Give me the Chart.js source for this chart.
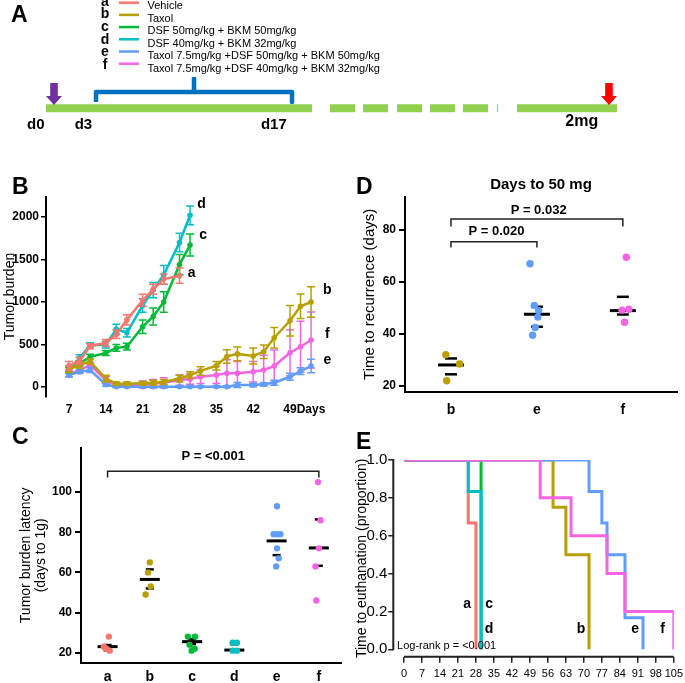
<!DOCTYPE html>
<html>
<head>
<meta charset="utf-8">
<script src="https://cdn.jsdelivr.net/npm/chart.js@4.4.1/dist/chart.umd.min.js"></script>
<style>
  body { margin: 0; width: 685px; height: 683px; background: #fff; position: relative; overflow: hidden;
         font-family: "Liberation Sans", Arial, sans-serif; }
  canvas { position: absolute; }
  .panel { position: absolute; font-weight: bold; font-size: 23px; line-height: 1; }
</style>
</head>
<body>
<canvas id="chartA" width="685" height="135" style="left:0;top:0"></canvas>
<canvas id="chartB" width="340" height="235" style="left:0;top:185px"></canvas>
<canvas id="chartC" width="345" height="253" style="left:0;top:430px"></canvas>
<canvas id="chartD" width="340" height="255" style="left:345px;top:165px"></canvas>
<canvas id="chartE" width="343" height="243" style="left:345px;top:440px"></canvas>
<div class="panel" style="left:11px;top:3px">A</div>
<div class="panel" style="left:12px;top:175px">B</div>
<div class="panel" style="left:12px;top:425px">C</div>
<div class="panel" style="left:356px;top:175px">D</div>
<div class="panel" style="left:356px;top:430px">E</div>
<script>
"use strict";

// treatment groups
const groupLetters = ['a', 'b', 'c', 'd', 'e', 'f'];
const groupNames = ['Vehicle', 'Taxol', 'DSF 50mg/kg + BKM 50mg/kg', 'DSF 40mg/kg + BKM 32mg/kg',
    'Taxol 7.5mg/kg +DSF 50mg/kg + BKM 50mg/kg', 'Taxol 7.5mg/kg +DSF 40mg/kg + BKM 32mg/kg'];
const groupColors = ['#F8766D', '#B79F00', '#00BA38', '#00BFC4', '#619CFF', '#F564E3'];

// A: schedule (schematic days)
const timelineSegments = [[-0.57, 18.43], [19.71, 21.5], [22.07, 23.86], [24.5, 26.29], [26.86, 28.64],
    [29.21, 31], [31.64, 31.71], [33.07, 40.21]];
const treatmentStart = 3;
const treatmentEnd = 17;
const timelineLabels = ['d0', 'd3', 'd17', '2mg'];
const timelineLabelDays = [-1.3, 2.1, 15.7, 37.7];

// B: tumor burden
const burdenDays = [7, 9, 11, 14, 16, 18, 21, 23, 25, 28, 30, 32, 35, 37, 39, 42, 44, 46, 49, 51, 53];
const burdenTicks = [7, 14, 21, 28, 35, 42, 49];
const burdenYTicks = [0, 500, 1000, 1500, 2000];
const burdenA = [250, 310, 480, 520, 620, 790, 1020, 1150, 1270, 1310];
const burdenAErr = [50, 40, 30, 40, 50, 60, 70, 60, 60, 90];
const burdenB = [210, 260, 300, 100, 40, 40, 45, 50, 60, 100, 140, 190, 250, 360, 390, 365, 415, 580, 780, 950, 1000];
const burdenBErr = [40, 40, 30, 40, 20, 20, 20, 30, 30, 40, 40, 50, 50, 80, 80, 95, 80, 120, 180, 145, 180];
const burdenC = [200, 280, 355, 400, 460, 475, 710, 830, 1000, 1440, 1670];
const burdenCErr = [30, 30, 30, 30, 40, 40, 80, 100, 120, 120, 130];
const burdenD = [200, 340, 490, 500, 680, 640, 960, 1140, 1320, 1700, 2020];
const burdenDErr = [30, 40, 30, 40, 60, 50, 80, 90, 110, 110, 110];
const burdenE = [140, 180, 200, 30, 4, 4, 4, 4, 4, 4, 4, 4, 4, 4, 24, 24, 32, 51, 121, 188, 247];
const burdenEErr = [20, 20, 30, 20, 10, 10, 10, 10, 10, 10, 10, 10, 10, 10, 30, 20, 20, 30, 40, 40, 80];
const burdenF = [150, 200, 260, 80, 20, 20, 30, 40, 50, 82, 94, 121, 141, 161, 161, 180, 200, 247, 403, 474, 553];
const burdenFErr = [30, 30, 30, 40, 20, 20, 40, 50, 60, 60, 60, 80, 100, 160, 140, 120, 175, 190, 270, 300, 330];

// C: latency to 1 g
const latencyTicks = [20, 40, 60, 80, 100];
const latencyA = [28, 23, 22, 21];
const latencyB = [65, 60, 53, 49];
const latencyC = [28, 28, 24, 22, 21];
const latencyD = [25, 25, 21, 21];
const latencyE = [93, 79, 79, 79, 72, 67, 63];
const latencyF = [105, 86, 72, 63, 46];
const latencyJitter = [[0.03, -0.09, -0.03, 0.05], [0, -0.04, 0.02, -0.1], [-0.1, 0.07, -0.06, 0.06, -0.01],
    [-0.04, 0.06, -0.04, 0.06], [0.01, -0.07, 0.01, 0.09, 0.01, 0.05, -0.01], [-0.02, 0.04, 0, -0.08, -0.06]];
const latencyMean = [23, 56.5, 25.5, 21.3, 75.7, 72.2];
const latencyHigh = [23.8, 61.5, 26.8, 24.2, 79.4, 86.4];
const latencyLow = [21.2, 52, 24.3, 20.8, 68.6, 63.3];

// D: days to 50 mg
const recurGroups = ['b', 'e', 'f'];
const recurColors = ['#B79F00', '#619CFF', '#F564E3'];
const recurTicks = [20, 40, 60, 80];
const recurB = [32, 28.5, 22];
const recurE = [67, 51, 49, 46.5, 42.5, 39.5];
const recurF = [69.5, 49.2, 49.5, 44.5];
const recurJitter = [[-0.06, 0.1, -0.05], [-0.08, -0.03, 0.02, 0.01, -0.02, -0.05], [0.04, -0.01, 0.07, 0.02]];
const recurMean = [28.1, 47.6, 49];
const recurHigh = [30.6, 50.5, 54.3];
const recurLow = [24.5, 42.8, 47.5];

// E: survival (day, proportion)
const survTicksX = [0, 7, 14, 21, 28, 35, 42, 49, 56, 63, 70, 77, 84, 91, 98, 105];
const survTicksY = [0, 0.2, 0.4, 0.6, 0.8, 1.0];
const survA = [[0, 1], [25, 0.667], [28, 0]];
const survB = [[0, 1], [58, 0.75], [63, 0.5], [72, 0]];
const survC = [[0, 1], [30, 0]];
const survD = [[0, 1], [25, 0.833], [30, 0]];
const survE = [[0, 1], [72, 0.833], [77, 0.667], [79, 0.5], [86, 0.167], [93, 0]];
const survF = [[0, 1], [53, 0.8], [65, 0.6], [79, 0.4], [86, 0.2], [105, 0]];

const FONT = "'Liberation Sans', Arial, sans-serif";
Chart.defaults.font.family = FONT;
Chart.defaults.color = '#000';

const base = {
    responsive: false,
    animation: false,
    devicePixelRatio: 1,
    plugins: { legend: { display: false }, tooltip: { enabled: false } }
};

const fixTicks = list => s => { s.ticks = list.map(v => ({ value: v })); };

// draws summary lines, brackets and texts in data units
function annotations(cfg) {
    return {
        id: 'annot',
        beforeDatasetsDraw(chart) {
            const { ctx, scales: { x, y } } = chart;
            ctx.save();
            ctx.strokeStyle = '#000';
            (cfg.summaries || []).forEach(s => {
                const cx = x.getPixelForValue(s.pos);
                [[s.mean, s.wide, 3], [s.hi, s.narrow, 2.5], [s.lo, s.narrow, 2.5]].forEach(([v, w, lw]) => {
                    const cy = y.getPixelForValue(v);
                    ctx.lineWidth = lw;
                    ctx.beginPath();
                    ctx.moveTo(cx - w / 2, cy);
                    ctx.lineTo(cx + w / 2, cy);
                    ctx.stroke();
                });
            });
            ctx.restore();
        },
        afterDatasetsDraw(chart) {
            const { ctx, scales: { x, y } } = chart;
            ctx.save();
            (cfg.brackets || []).forEach(b => {
                const x1 = x.getPixelForValue(b.from), x2 = x.getPixelForValue(b.to);
                const yt = y.getPixelForValue(b.y), yb = y.getPixelForValue(b.drop);
                ctx.strokeStyle = '#222';
                ctx.lineWidth = 1.5;
                ctx.beginPath();
                ctx.moveTo(x1, yb);
                ctx.lineTo(x1, yt);
                ctx.lineTo(x2, yt);
                ctx.lineTo(x2, yb);
                ctx.stroke();
            });
            (cfg.texts || []).forEach(t => {
                ctx.font = t.font;
                ctx.fillStyle = '#000';
                ctx.textAlign = t.align || 'center';
                ctx.textBaseline = 'middle';
                ctx.fillText(t.text, x.getPixelForValue(t.x), y.getPixelForValue(t.y));
            });
            if (cfg.after) cfg.after(chart, ctx);
            ctx.restore();
        }
    };
}

const errorBars = {
    id: 'errorBars',
    beforeDatasetDraw(chart, args) {
        const ds = chart.data.datasets[args.index];
        if (!ds.errors) return;
        const { ctx, scales: { y } } = chart;
        ctx.save();
        ctx.strokeStyle = ds.borderColor;
        ctx.lineWidth = 1.5;
        args.meta.data.forEach((pt, i) => {
            const v = ds.data[i].y, e = ds.errors[i];
            const top = y.getPixelForValue(v + e), bot = y.getPixelForValue(Math.max(v - e, -40));
            ctx.beginPath();
            ctx.moveTo(pt.x, top); ctx.lineTo(pt.x, bot);
            ctx.moveTo(pt.x - 4, top); ctx.lineTo(pt.x + 4, top);
            ctx.moveTo(pt.x - 4, bot); ctx.lineTo(pt.x + 4, bot);
            ctx.stroke();
        });
        ctx.restore();
    }
};

// ---------- A ----------
const timelinePoints = [];
timelineSegments.forEach(([s, e]) => {
    timelinePoints.push({ x: s, y: 108.3 }, { x: e, y: 108.3 }, { x: e, y: null });
});
const mid = (treatmentStart + treatmentEnd) / 2;
const bracketPoints = [
    { x: treatmentStart, y: 102 }, { x: treatmentStart, y: 92 }, { x: treatmentEnd, y: 92 }, { x: treatmentEnd, y: 102 },
    { x: treatmentEnd, y: null }, { x: mid, y: 92 }, { x: mid, y: 77 }
];
const scheduleDecor = {
    id: 'scheduleDecor',
    afterDatasetsDraw(chart) {
        const { ctx, scales: { x } } = chart;
        ctx.save();
        // legend
        groupLetters.forEach((l, i) => {
            ctx.fillStyle = '#000';
            ctx.font = 'bold 14px ' + FONT;
            ctx.textAlign = 'center';
            ctx.textBaseline = 'middle';
            ctx.fillText(l, 105, 2 + i * 12.6);
            ctx.strokeStyle = groupColors[i];
            ctx.lineWidth = 2.5;
            ctx.beginPath();
            ctx.moveTo(119, 2.7 + i * 12.2);
            ctx.lineTo(139, 2.7 + i * 12.2);
            ctx.stroke();
            ctx.font = '11px ' + FONT;
            ctx.textAlign = 'left';
            ctx.fillText(groupNames[i], 147.5, 6 + i * 12.5);
        });
        // arrows at start and end
        [[0, '#7030A0'], [39.64, '#FF0000']].forEach(([d, c]) => {
            const cx = x.getPixelForValue(d);
            ctx.fillStyle = c;
            ctx.fillRect(cx - 3.8, 83, 7.6, 14);
            ctx.beginPath();
            ctx.moveTo(cx - 8, 96);
            ctx.lineTo(cx + 8, 96);
            ctx.lineTo(cx, 105);
            ctx.closePath();
            ctx.fill();
        });
        timelineLabels.forEach((t, i) => {
            ctx.fillStyle = '#000';
            ctx.font = (t === '2mg' ? 'bold 16px ' : 'bold 15px ') + FONT;
            ctx.textAlign = 'center';
            ctx.textBaseline = 'middle';
            ctx.fillText(t, x.getPixelForValue(timelineLabelDays[i]), t === '2mg' ? 122 : 125);
        });
        ctx.restore();
    }
};
new Chart(document.getElementById('chartA'), {
    type: 'line',
    data: {
        datasets: [
            { data: timelinePoints, borderColor: '#92D050', borderWidth: 8, borderCapStyle: 'butt', pointRadius: 0, spanGaps: false },
            { data: bracketPoints, borderColor: '#0070C0', borderWidth: 4.5, borderJoinStyle: 'round', pointRadius: 0, spanGaps: false }
        ]
    },
    options: {
        ...base,
        layout: { padding: 0 },
        scales: {
            x: { type: 'linear', display: false, min: -3.857, max: 45.07 },
            y: { type: 'linear', display: false, min: 0, max: 135, reverse: true }
        }
    },
    plugins: [scheduleDecor]
});

// ---------- B ----------
const burdenSeries = [
    [burdenA, burdenAErr], [burdenB, burdenBErr], [burdenC, burdenCErr],
    [burdenD, burdenDErr], [burdenE, burdenEErr], [burdenF, burdenFErr]
];
new Chart(document.getElementById('chartB'), {
    type: 'line',
    data: {
        datasets: burdenSeries.map(([vals, errs], i) => ({
            data: vals.map((v, k) => ({ x: burdenDays[k], y: v })),
            errors: errs,
            borderColor: groupColors[i],
            backgroundColor: groupColors[i],
            borderWidth: 2.5,
            pointRadius: 2.8,
            pointBorderWidth: 0,
            tension: 0
        }))
    },
    options: {
        ...base,
        layout: { padding: { top: 11.6, right: 20, left: 0, bottom: 0 } },
        scales: {
            x: {
                type: 'linear', min: 2.63, max: 54.7,
                afterBuildTicks: fixTicks(burdenTicks),
                afterFit: s => { s.height = 23.6; },
                grid: { display: false, drawTicks: false },
                border: { display: false },
                ticks: { font: { weight: 'bold', size: 12 }, padding: 6, maxRotation: 0, callback: v => String(v) }
            },
            y: {
                type: 'linear', min: -110, max: 2240,
                afterBuildTicks: fixTicks(burdenYTicks),
                afterFit: s => { s.width = 46; },
                grid: { drawOnChartArea: false, drawTicks: true, tickLength: 5, color: '#000', lineWidth: 1.5 },
                border: { display: true, color: '#000', width: 2 },
                ticks: { font: { weight: 'bold', size: 12 }, padding: 2, callback: v => String(v) },
                title: { display: true, text: 'Tumor burden', font: { size: 14 }, padding: { top: 2, bottom: 0 } }
            }
        }
    },
    plugins: [errorBars, annotations({
        texts: [
            { text: 'a', x: 30.3, y: 1338 }, { text: 'b', x: 56.1, y: 1141 }, { text: 'c', x: 32.5, y: 1788 },
            { text: 'd', x: 32.2, y: 2149 }, { text: 'e', x: 56.1, y: 318 }, { text: 'f', x: 56.1, y: 620 }
        ].map(t => ({ ...t, font: 'bold 14px ' + FONT })),
        after(chart, ctx) {
            const x = chart.scales.x;
            ctx.font = 'bold 12px ' + FONT;
            ctx.fillStyle = '#000';
            ctx.textAlign = 'left';
            ctx.textBaseline = 'middle';
            ctx.fillText('Days', x.getPixelForValue(49) + 6.7, chart.chartArea.bottom + 13.5);
        }
    })]
});

// ---------- C ----------
const latencySets = [latencyA, latencyB, latencyC, latencyD, latencyE, latencyF];
new Chart(document.getElementById('chartC'), {
    type: 'scatter',
    data: {
        datasets: latencySets.map((vals, i) => ({
            data: vals.map((v, k) => ({ x: i + 1 + latencyJitter[i][k], y: v })),
            backgroundColor: groupColors[i],
            borderWidth: 0,
            pointRadius: 3.2
        }))
    },
    options: {
        ...base,
        layout: { padding: { top: 18, right: 0, left: 0, bottom: 0 } },
        scales: {
            x: {
                type: 'linear', min: 0.371, max: 6.524,
                afterBuildTicks: fixTicks(groupLetters.map((g, i) => i + 1)),
                afterFit: s => { s.height = 20.3; },
                grid: { display: false, drawTicks: false },
                border: { display: true, color: '#000', width: 2 },
                ticks: { font: { weight: 'bold', size: 14 }, padding: 6, callback: v => groupLetters[Math.round(v) - 1] }
            },
            y: {
                type: 'linear', min: 15, max: 122,
                afterBuildTicks: fixTicks(latencyTicks),
                afterFit: s => { s.width = 81; },
                grid: { drawOnChartArea: false, drawTicks: true, tickLength: 6, color: '#000', lineWidth: 2 },
                border: { display: true, color: '#000', width: 2 },
                ticks: { font: { weight: 'bold', size: 12 }, padding: 3 },
                title: {
                    display: true, text: ['Tumor burden latency', '(days to 1g)'],
                    font: { size: 14, lineHeight: 1.05 }, padding: { top: 19, bottom: 0 }
                }
            }
        }
    },
    plugins: [annotations({
        summaries: latencyMean.map((m, i) => ({ pos: i + 1, mean: m, hi: latencyHigh[i], lo: latencyLow[i], wide: 20, narrow: 8 })),
        brackets: [{ from: 1, to: 6, y: 110.4, drop: 107.3 }],
        texts: [{ text: 'P = <0.001', x: 3.5, y: 118, font: 'bold 13px ' + FONT }]
    })]
});

// ---------- D ----------
const recurSets = [recurB, recurE, recurF];
new Chart(document.getElementById('chartD'), {
    type: 'scatter',
    data: {
        datasets: recurSets.map((vals, i) => ({
            data: vals.map((v, k) => ({ x: i + 1 + recurJitter[i][k], y: v })),
            backgroundColor: recurColors[i],
            borderWidth: 0,
            pointRadius: 3.7
        }))
    },
    options: {
        ...base,
        layout: { padding: { top: 31.7, right: 8, left: 0, bottom: 0 } },
        scales: {
            x: {
                type: 'linear', min: 0.465, max: 3.63,
                afterBuildTicks: fixTicks(recurGroups.map((g, i) => i + 1)),
                afterFit: s => { s.height = 28; },
                grid: { display: false, drawTicks: false },
                border: { display: true, color: '#000', width: 2 },
                ticks: { font: { weight: 'bold', size: 14 }, padding: 10, callback: v => recurGroups[Math.round(v) - 1] }
            },
            y: {
                type: 'linear', min: 17.7, max: 92.8,
                afterBuildTicks: fixTicks(recurTicks),
                afterFit: s => { s.width = 60; },
                grid: { drawOnChartArea: false, drawTicks: true, tickLength: 6, color: '#000', lineWidth: 2 },
                border: { display: true, color: '#000', width: 2 },
                ticks: { font: { weight: 'bold', size: 12 }, padding: 3 },
                title: { display: true, text: 'Time to recurrence (days)', font: { size: 15 }, padding: { top: 16, bottom: 0 } }
            }
        }
    },
    plugins: [annotations({
        summaries: recurMean.map((m, i) => ({ pos: i + 1, mean: m, hi: recurHigh[i], lo: recurLow[i], wide: 26, narrow: 12 })),
        brackets: [{ from: 1, to: 2, y: 75.5, drop: 73.3 }, { from: 1, to: 3, y: 84.2, drop: 81.3 }],
        texts: [
            { text: 'P = 0.020', x: 1.53, y: 79.3, font: 'bold 13px ' + FONT },
            { text: 'P = 0.032', x: 2.02, y: 87.4, font: 'bold 13px ' + FONT }
        ],
        after(chart, ctx) {
            const a = chart.chartArea;
            ctx.font = 'bold 15px ' + FONT;
            ctx.fillStyle = '#000';
            ctx.textAlign = 'center';
            ctx.textBaseline = 'middle';
            ctx.fillText('Days to 50 mg', (a.left + a.right) / 2, 20);
        }
    })]
});

// ---------- E ----------
const survSets = [survA, survB, survC, survD, survE, survF];
const survOrder = [5, 3, 4, 2, 1, 0];
new Chart(document.getElementById('chartE'), {
    type: 'line',
    data: {
        datasets: survSets.map((pts, i) => ({
            data: pts.map(([d, p]) => ({ x: d, y: p })),
            borderColor: groupColors[i],
            borderWidth: 3,
            pointRadius: 0,
            stepped: 'before',
            order: survOrder[i]
        }))
    },
    options: {
        ...base,
        layout: { padding: { top: 20, right: 14, left: 0, bottom: 0 } },
        scales: {
            x: {
                type: 'linear', min: -4.16, max: 105,
                afterBuildTicks: fixTicks(survTicksX),
                afterFit: s => { s.height = 26.3; },
                grid: { drawOnChartArea: false, drawTicks: true, tickLength: 6, color: '#222', lineWidth: 1.5 },
                border: { display: false },
                ticks: { font: { size: 11 }, padding: 5, maxRotation: 0, autoSkip: false }
            },
            y: {
                type: 'linear', min: -0.039, max: 1.0,
                afterBuildTicks: fixTicks(survTicksY),
                afterFit: s => { s.width = 48.3; },
                grid: { drawOnChartArea: false, drawTicks: true, tickLength: 5, color: '#222', lineWidth: 1.5 },
                border: { display: false },
                ticks: { font: { size: 15 }, padding: 1, callback: v => v.toFixed(1) },
                title: { display: true, text: 'Time to euthanation (proportion)', font: { size: 14 }, padding: { top: 9, bottom: 0 } }
            }
        }
    },
    plugins: [annotations({
        texts: [
            { text: 'a', x: 24.6, y: 0.24 }, { text: 'c', x: 33.1, y: 0.24 }, { text: 'd', x: 33.1, y: 0.107 },
            { text: 'b', x: 68.9, y: 0.107 }, { text: 'e', x: 89.9, y: 0.107 }, { text: 'f', x: 100.6, y: 0.107 }
        ].map(t => ({ ...t, font: 'bold 14px ' + FONT })).concat([
            { text: 'Log-rank p = <0.001', x: -2.7, y: 0.017, font: '11px ' + FONT, align: 'left' }
        ]),
        after(chart, ctx) {
            const { chartArea: a, scales: { x, y } } = chart;
            ctx.strokeStyle = '#222';
            ctx.lineWidth = 2;
            ctx.beginPath();
            ctx.moveTo(a.left, y.getPixelForValue(1.0) - 1);
            ctx.lineTo(a.left, y.getPixelForValue(0) + 1);
            ctx.moveTo(x.getPixelForValue(0), a.bottom);
            ctx.lineTo(x.getPixelForValue(105), a.bottom);
            ctx.stroke();
        }
    })]
});
</script>
</body>
</html>
